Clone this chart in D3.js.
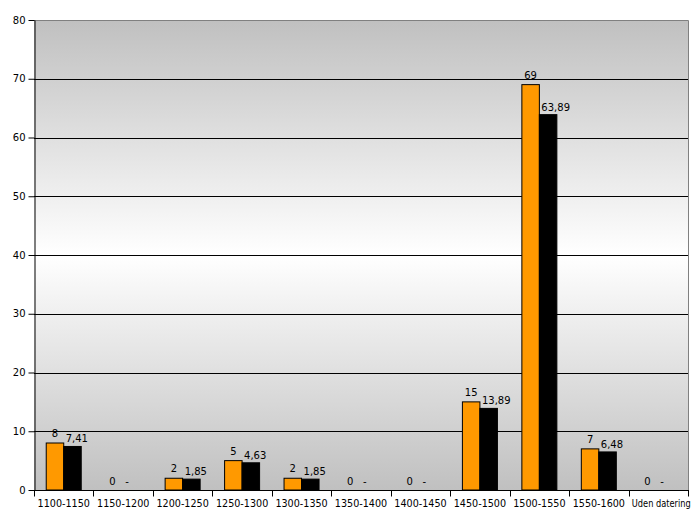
<!DOCTYPE html>
<html><head><meta charset="utf-8">
<script src="https://cdn.jsdelivr.net/npm/d3@7"></script>
<style>body{margin:0;background:#fff}svg{display:block}text{font-family:"DejaVu Sans",Verdana,sans-serif}</style>
</head><body>
<svg id="c" width="700" height="525"></svg>
<script>
const categories = ["1100-1150","1150-1200","1200-1250","1250-1300","1300-1350","1350-1400","1400-1450","1450-1500","1500-1550","1550-1600","Uden datering"];
const seriesA = [8,0,2,5,2,0,0,15,69,7,0];
const seriesB = [7.41,0,1.85,4.63,1.85,0,0,13.89,63.89,6.48,0];
const yTicks = [0,10,20,30,40,50,60,70,80];

const svg = d3.select("#c");
const m = {l:34, t:20, r:688, b:490};
const x = d3.scaleBand().domain(categories).range([m.l, m.r]);
const y = d3.scaleLinear().domain([0,80]).range([m.b, m.t]);

const defs = svg.append("defs");
const g = defs.append("linearGradient").attr("id","bg").attr("x1",0).attr("y1",0).attr("x2",0).attr("y2",1);
g.append("stop").attr("offset","0").attr("stop-color","#c0c0c0");
g.append("stop").attr("offset","0.5").attr("stop-color","#ffffff");
g.append("stop").attr("offset","1").attr("stop-color","#c0c0c0");

svg.append("rect").attr("x",m.l).attr("y",m.t).attr("width",m.r-m.l).attr("height",m.b-m.t).attr("fill","url(#bg)");
svg.append("path").attr("d",`M${m.l},${m.t+0.5}H${m.r+0.5}V${m.b}`).attr("fill","none").attr("stroke","#808080").attr("stroke-width",1);

svg.append("g").selectAll("line").data(yTicks.filter(d=>d>0&&d<80)).join("line")
  .attr("x1",m.l).attr("x2",m.r).attr("y1",d=>Math.round(y(d))+0.5).attr("y2",d=>Math.round(y(d))+0.5)
  .attr("stroke","#000").attr("stroke-width",1);

const bw = 17.5;
const bars = svg.append("g");
const fmt = v => String(v).replace(".",",");
categories.forEach((c,i)=>{
  const cx = x(c) + x.bandwidth()/2;
  const a = seriesA[i], b = seriesB[i];
  if (a>0) bars.append("rect").attr("x",cx-bw).attr("y",y(a)).attr("width",bw).attr("height",y(0)-y(a))
     .attr("fill","#ff9900").attr("stroke","#000").attr("stroke-width",1);
  if (b>0) bars.append("rect").attr("x",cx).attr("y",y(b)).attr("width",bw).attr("height",y(0)-y(b))
     .attr("fill","#000").attr("stroke","#000").attr("stroke-width",1);
  bars.append("text").attr("x",a>0?cx-bw/2:cx-bw/2-2).attr("y",y(a)-(a>0?6:5)).attr("text-anchor","middle").attr("font-size",10).text(fmt(a));
  bars.append("text").attr("x",cx+2).attr("y",y(b)-(b>0?4:5)).attr("text-anchor","start").attr("font-size",10).text(b>0?fmt(b):"-");
});

const ya = svg.append("g").attr("transform",`translate(${m.l+0.5},0)`)
  .call(d3.axisLeft(y).tickValues(yTicks).tickSize(6).tickSizeOuter(0).tickPadding(3));
ya.select(".domain").attr("stroke","#000");
ya.selectAll("text").attr("font-size",10).attr("font-family","DejaVu Sans").attr("fill","#000");

const xa = svg.append("g").attr("transform",`translate(0,${m.b+0.5})`)
  .call(d3.axisBottom(x).tickSize(0).tickPadding(10));
xa.select(".domain").attr("d",`M${m.l},0H${m.r+1}`).attr("stroke","#000");
xa.selectAll("text").attr("font-size",9.6).attr("font-family","DejaVu Sans").attr("fill","#000")
  .each(function(d){ if (d.length>10) d3.select(this).attr("textLength",59).attr("lengthAdjust","spacingAndGlyphs").attr("dx",3); });
xa.append("g").selectAll("line").data(d3.range(categories.length+1)).join("line")
  .attr("x1",i=>Math.round(m.l + i*x.step())+0.5).attr("x2",i=>Math.round(m.l + i*x.step())+0.5)
  .attr("y1",0).attr("y2",6).attr("stroke","#000");
</script>
</body></html>
